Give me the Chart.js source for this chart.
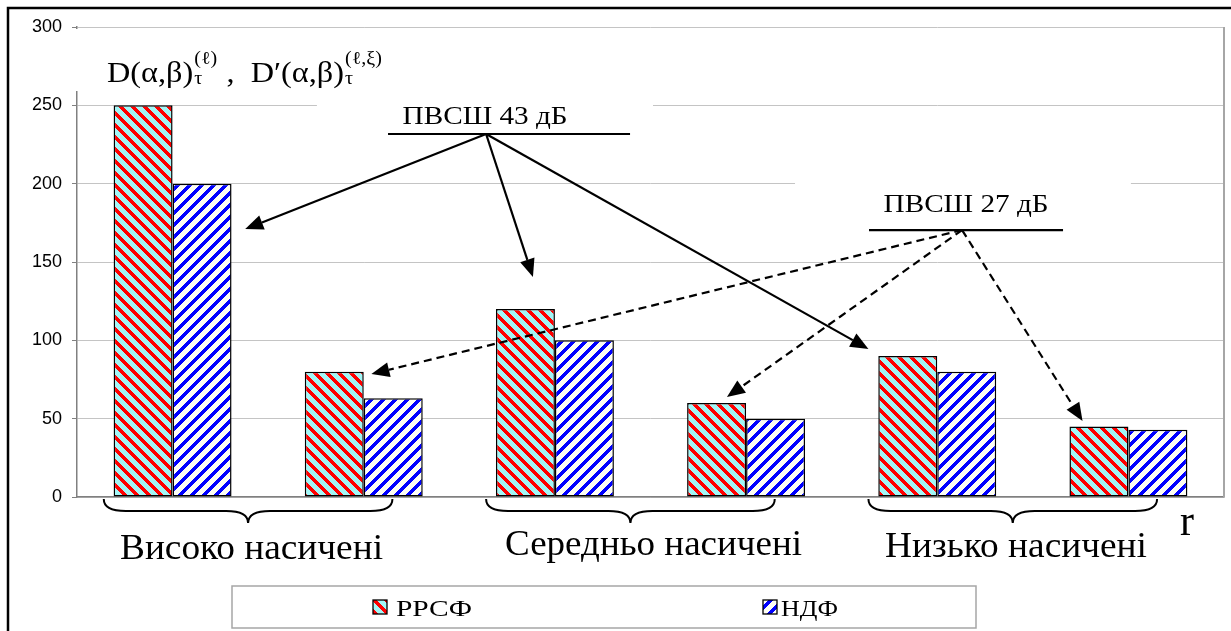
<!DOCTYPE html>
<html>
<head>
<meta charset="utf-8">
<script src="https://cdn.jsdelivr.net/npm/chart.js"></script>
<style>
  html, body { margin: 0; padding: 0; background: #fff; }
  #wrap { width: 1231px; height: 631px; }
</style>
</head>
<body>
<div id="wrap"><canvas id="chart" width="1231" height="631"></canvas></div>
<script>
// групи насиченості та рівні ПВСШ (кожна група має два стовпчики)
const groups = ['Високо насичені', 'Середньо насичені', 'Низько насичені'];
const snrLabels = ['ПВСШ 43 дБ', 'ПВСШ 27 дБ'];
const categories = ['В-43', 'В-27', 'С-43', 'С-27', 'Н-43', 'Н-27'];
const seriesNames = ['РРСФ', 'НДФ'];
const rrsfValues = [250, 80, 120, 60, 90, 45];
const ndfValues = [200, 63, 100, 50, 80, 43];
const yTicks = [0, 50, 100, 150, 200, 250, 300];

// стрілки: [індекс категорії (дробовий), значення]
const solidFrom = [1.64, 231.7];
const solidTo = [[0.38, 171], [1.885, 140.4], [3.64, 94.5]];
const dashedFrom = [4.13, 170.4];
const dashedTo = [[1.04, 78.5], [2.9, 63.8], [4.76, 48.5]];

const canvas = document.getElementById('chart');
const ctx = canvas.getContext('2d');

// штрихування як у Excel
function stripes(bg, fg, dir) {
  const p = 12, t = 5;
  const c = document.createElement('canvas');
  c.width = p; c.height = p;
  const g = c.getContext('2d');
  g.fillStyle = bg;
  g.fillRect(0, 0, p, p);
  g.fillStyle = fg;
  for (let y = 0; y < p; y++) {
    for (let x = 0; x < p; x++) {
      const d = dir > 0 ? (x - y + 2 * p) % p : (x + y) % p;
      if (d < t) g.fillRect(x, y, 1, 1);
    }
  }
  return ctx.createPattern(c, 'repeat');
}
const redPattern = stripes('#a2f6f6', '#ff0000', 1);
const bluePattern = stripes('#fdfdf4', '#0000ff', -1);

function fitText(c, text, x, base, font, w) {
  c.save();
  c.font = font;
  const nat = c.measureText(text).width;
  c.translate(x, base);
  c.scale(w / nat, 1);
  c.textAlign = 'left';
  c.textBaseline = 'alphabetic';
  c.fillStyle = '#000';
  c.fillText(text, 0, 0);
  c.restore();
}

function arrow(c, x0, y0, x1, y1, dashed) {
  const a = Math.atan2(y1 - y0, x1 - x0);
  const hl = 18, hw = 7.5;
  const bx = x1 - hl * Math.cos(a), by = y1 - hl * Math.sin(a);
  c.save();
  c.strokeStyle = '#000';
  c.lineWidth = 2.2;
  c.setLineDash(dashed ? [8, 5] : []);
  c.beginPath();
  c.moveTo(x0, y0);
  c.lineTo(bx, by);
  c.stroke();
  c.setLineDash([]);
  c.fillStyle = '#000';
  c.beginPath();
  c.moveTo(x1, y1);
  c.lineTo(bx + hw * Math.sin(a), by - hw * Math.cos(a));
  c.lineTo(bx - hw * Math.sin(a), by + hw * Math.cos(a));
  c.closePath();
  c.fill();
  c.restore();
}

function brace(c, L, M, R, y0) {
  const y1 = y0 + 12, y2 = y0 + 24, r = 22;
  c.save();
  c.strokeStyle = '#000';
  c.lineWidth = 2;
  c.beginPath();
  c.moveTo(L, y0);
  c.quadraticCurveTo(L, y1, L + r, y1);
  c.lineTo(M - r, y1);
  c.quadraticCurveTo(M, y1, M, y2);
  c.quadraticCurveTo(M, y1, M + r, y1);
  c.lineTo(R - r, y1);
  c.quadraticCurveTo(R, y1, R, y0);
  c.stroke();
  c.restore();
}

function drawFormula(c, x0, base, targetW) {
  const main = '29px "Liberation Serif"';
  const small = '18px "Liberation Serif"';
  const parts = [
    { t: 'D(α,β)' },
    { sub: 'τ', sup: '(ℓ)' },
    { t: ' ,  ' },
    { t: 'D′(α,β)' },
    { sub: 'τ', sup: '(ℓ,ξ)' }
  ];
  let total = 0;
  parts.forEach(p => {
    if (p.t) { c.font = main; p.w = c.measureText(p.t).width; }
    else { c.font = small; p.w = Math.max(c.measureText(p.sub).width, c.measureText(p.sup).width) + 2; }
    total += p.w;
  });
  c.save();
  c.translate(x0, base);
  c.scale(targetW / total, 1);
  c.fillStyle = '#000';
  c.textAlign = 'left';
  c.textBaseline = 'alphabetic';
  let x = 0;
  parts.forEach(p => {
    if (p.t) { c.font = main; c.fillText(p.t, x, 0); }
    else {
      c.font = small;
      c.fillText(p.sub, x + 1, 2);
      c.fillText(p.sup, x + 1, -18);
    }
    x += p.w;
  });
  c.restore();
}

const decor = {
  id: 'decor',
  beforeDatasetsDraw(chart) {
    const c = chart.ctx;
    const xs = chart.scales.x, ys = chart.scales.y;
    const px = v => xs.getPixelForValue(v);
    const py = v => ys.getPixelForValue(v);
    const area = chart.chartArea;
    c.save();
    c.fillStyle = '#fff';
    // білі поля під підписами, як у вихідному рисунку
    c.fillRect(area.left - 7, area.top + 2, 340, 62);
    c.fillRect(px(0.755), py(258.5), px(2.513) - px(0.755), py(227.9) - py(258.5));
    c.fillRect(px(3.256), py(203.6), px(5.013) - px(3.256), py(169.1) - py(203.6));
    // права межа області побудови
    c.strokeStyle = '#a6a6a6';
    c.lineWidth = 2;
    c.beginPath();
    c.moveTo(area.right, area.top);
    c.lineTo(area.right, area.bottom);
    c.stroke();
    c.restore();
  },
  afterDraw(chart) {
    const c = chart.ctx;
    const xs = chart.scales.x, ys = chart.scales.y;
    const px = v => xs.getPixelForValue(v);
    const py = v => ys.getPixelForValue(v);
    const area = chart.chartArea;

    // зовнішня рамка
    c.save();
    c.strokeStyle = '#000';
    c.lineWidth = 2.5;
    c.strokeRect(8, 8, 1300, 700);
    c.restore();

    drawFormula(c, 107, 82, 276);

    // ПВСШ 43 дБ
    fitText(c, snrLabels[0], px(1.632) - 82, py(238), '26px "Liberation Serif"', 165);
    c.save();
    c.strokeStyle = '#000';
    c.lineWidth = 2.2;
    c.beginPath();
    c.moveTo(px(1.127), py(231.7));
    c.lineTo(px(2.393), py(231.7));
    c.stroke();
    // ПВСШ 27 дБ
    c.beginPath();
    c.moveTo(px(3.643), py(170.4));
    c.lineTo(px(4.658), py(170.4));
    c.stroke();
    c.restore();
    fitText(c, snrLabels[1], px(4.148) - 82, py(182), '26px "Liberation Serif"', 165);

    solidTo.forEach(t => arrow(c, px(solidFrom[0]), py(solidFrom[1]), px(t[0]), py(t[1]), false));
    dashedTo.forEach(t => arrow(c, px(dashedFrom[0]), py(dashedFrom[1]), px(t[0]), py(t[1]), true));

    // фігурні дужки під групами та назви груп
    const y0 = area.bottom + 2;
    groups.forEach((g, i) => {
      brace(c, px(2 * i - 0.36), px(2 * i + 0.395), px(2 * i + 1.15), y0);
    });
    fitText(c, groups[0], 120, 559, '35px "Liberation Serif"', 263);
    fitText(c, groups[1], 505, 555, '35px "Liberation Serif"', 297);
    fitText(c, groups[2], 885, 557, '35px "Liberation Serif"', 262);
    fitText(c, 'r', 1180, 535, '44px "Liberation Serif"', 14);

    // легенда
    c.save();
    c.fillStyle = '#fff';
    c.fillRect(232, 586, 744, 42);
    c.strokeStyle = '#a6a6a6';
    c.lineWidth = 1.5;
    c.strokeRect(232, 586, 744, 42);
    const items = [[373, 396, 76], [763, 781, 57]];
    chart.data.datasets.forEach((ds, i) => {
      const [mx, tx, tw] = items[i];
      c.fillStyle = ds.backgroundColor;
      c.fillRect(mx, 600, 14, 14);
      c.strokeStyle = '#000';
      c.lineWidth = 1.3;
      c.strokeRect(mx, 600, 14, 14);
      fitText(c, ds.label, tx, 616, '23px "Liberation Serif"', tw);
    });
    c.restore();
  }
};

const myChart = new Chart(ctx, {
  type: 'bar',
  data: {
    labels: categories,
    datasets: [
      {
        label: seriesNames[0],
        data: rrsfValues,
        backgroundColor: redPattern,
        borderColor: '#000',
        borderWidth: 1.5,
        borderSkipped: false,
        barPercentage: 1,
        categoryPercentage: 0.617,
      },
      {
        label: seriesNames[1],
        data: ndfValues,
        backgroundColor: bluePattern,
        borderColor: '#000',
        borderWidth: 1.5,
        borderSkipped: false,
        barPercentage: 1,
        categoryPercentage: 0.617,
      },
    ],
  },
  options: {
    responsive: false,
    animation: false,
    layout: {
      padding: { left: 10, right: 7, top: 27, bottom: 134 },
    },
    scales: {
      x: {
        grid: { display: false, drawTicks: false },
        ticks: { display: false },
        border: { display: true, color: '#808080', width: 1.5 },
        afterFit: (s) => { s.height = 0; },
      },
      y: {
        min: yTicks[0],
        max: yTicks[yTicks.length - 1],
        ticks: {
          stepSize: yTicks[1] - yTicks[0],
          color: '#000',
          padding: 10,
          font: { family: 'Arial, "Liberation Sans", sans-serif', size: 18 },
        },
        grid: {
          color: '#c4c4c4',
          tickColor: '#808080',
          tickLength: 5,
        },
        border: { color: '#808080', width: 1.5 },
        afterFit: (s) => { s.width = 67; },
      },
    },
    plugins: {
      legend: { display: false },
      tooltip: { enabled: false },
    },
  },
  plugins: [decor],
});
</script>
</body>
</html>
